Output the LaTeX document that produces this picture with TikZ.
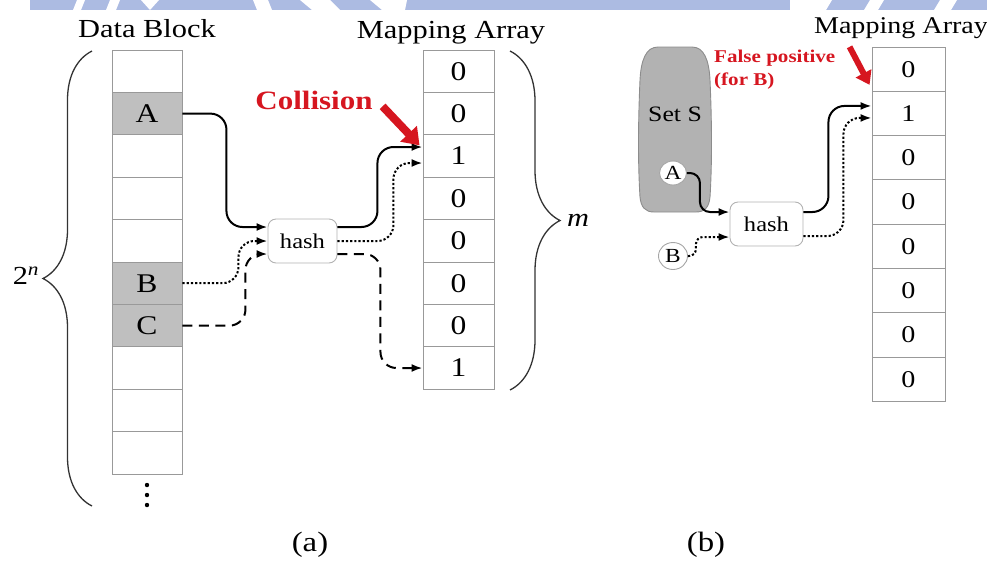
\documentclass[tikz,border=0pt]{standalone}
\usepackage{fontspec}
\setmainfont{Liberation Serif}
\usepackage{graphicx}
\usetikzlibrary{arrows.meta,decorations.pathreplacing,shapes.geometric}
\definecolor{alertred}{RGB}{214,22,32}
\definecolor{bandblue}{RGB}{172,187,226}
\newcommand{\fs}[1]{\fontsize{#1}{#1}\selectfont}
\newcommand{\wtext}[1]{\scalebox{1.17}[1]{#1}}
\tikzset{
  cell/.style={draw=black!40, line width=0.9pt, minimum width=70pt,
    minimum height=42.4pt, inner sep=0pt, font=\fs{27}},
  cellb/.style={cell, minimum width=73pt, minimum height=44.3pt, font=\fs{24}},
  hashbox/.style={draw=black!30, line width=0.9pt, rounded corners=8pt,
    fill=white, inner sep=0pt, font=\fs{21}},
  flow/.style={line width=2pt, rounded corners=16pt,
    -{Latex[length=11pt,width=8pt]}},
  dotflow/.style={flow, dash pattern=on 2.2pt off 2pt},
  dashflow/.style={flow, dash pattern=on 10pt off 6.5pt},
  redarrow/.style={draw=alertred, line width=8pt,
    -{Triangle[length=16pt,width=22pt]}},
  bracestyle/.style={draw=black!80, line width=1.3pt, decorate},
  member/.style={ellipse, draw=black!35, line width=0.9pt, fill=white,
    inner sep=0pt, font=\fs{20}},
  title/.style={anchor=base, inner sep=0pt}
}
\begin{document}
\begin{tikzpicture}[x=1pt, y=-1pt]
\useasboundingbox (0,0) rectangle (987,563);

% watermark band along the top edge
\fill[bandblue] (30,0) rectangle (987,10);
\fill[white] (77,0) -- (85,0) -- (81,10) -- (73,10) -- cycle;
\fill[white] (110,0) -- (120,0) -- (116,10) -- (106,10) -- cycle;
\fill[white] (141,0) -- (159,0) -- (150,10) -- cycle;
\fill[white] (253,0) -- (268,0) -- (272,10) -- (257,10) -- cycle;
\fill[white] (300,0) -- (330,0) -- (340,10) -- (312,10) -- cycle;
\fill[white] (370,0) -- (407,0) -- (405,10) -- (382,10) -- cycle;
\fill[white] (790,0) -- (832,0) -- (826,10) -- (790,10) -- cycle;
\fill[white] (870,0) -- (884,0) -- (878,10) -- (864,10) -- cycle;
\fill[white] (940,0) -- (957,0) -- (951,10) -- (934,10) -- cycle;

% ---------------- (a) ----------------
\node[title, font=\fs{26}] (dbTitle) at (147,37) {\wtext{Data Block}};
\node[title, font=\fs{26}] (maTitle) at (451,38) {\wtext{Mapping Array}};

\foreach \i/\lab/\f in {1//white, 2/A/black!25, 3//white, 4//white, 5//white,
    6/B/black!25, 7/C/black!25, 8//white, 9//white, 10//white}
  \node[cell, fill=\f] (d\i) at (147,{50+42.4*\i-21.2}) {\wtext{\lab}};

\foreach \i/\v in {1/0, 2/0, 3/1, 4/0, 5/0, 6/0, 7/0, 8/1}
  \node[cell, minimum width=71pt] (m\i) at (458.5,{50+42.4*\i-21.2}) {\wtext{\v}};

\fill (147,485) circle (2.2pt);
\fill (147,495) circle (2.2pt);
\fill (147,505) circle (2.2pt);

\draw[bracestyle, decoration={brace, amplitude=49pt}] (92,506) -- (92,51);
\node[font=\fs{26}] (twoN) at (26,276) {\wtext{2\textsuperscript{\itshape n}}};
\draw[bracestyle, decoration={brace, amplitude=50pt}] (510,51) -- (510,390);
\node[font=\fs{26}\itshape] (mLab) at (578,220) {\wtext{m}};

\node[hashbox, minimum width=69pt, minimum height=44pt] (ha) at (302.5,241) {\wtext{hash}};

\draw[flow] (d2.east) -- ++(44,0) |- ([yshift=14pt]ha.west);
\draw[dotflow] (d6.east) -- ++(56,0) |- (ha.west);
\draw[dashflow] (d7.east) -- ++(63,0) |- ([yshift=-13pt]ha.west);

\draw[flow] ([yshift=14pt]ha.east) -- ++(40,0) |- ([yshift=9pt]m3.west);
\draw[dotflow] (ha.east) -- ++(56,0) |- ([yshift=-7pt]m3.west);
\draw[dashflow] ([yshift=-13pt]ha.east) -- ++(43,0) |- (m8.west);

\node[title, font=\fs{26.5}\bfseries, text=alertred] (collision) at (314,109) {\wtext{Collision}};
\coordinate (colTail) at ([shift={(-40pt,28pt)}]m3.north west);
\draw[redarrow] (colTail) -- ([shift={(-3pt,-11pt)}]m3.north west);

\node[font=\fs{28}] (capA) at (310,545) {\wtext{(a)}};

% ---------------- (b) ----------------
\node[title, font=\fs{24}] (mbTitle) at (901,33) {\wtext{Mapping Array}};

\foreach \i/\v in {1/0, 2/1, 3/0, 4/0, 5/0, 6/0, 7/0, 8/0}
  \node[cellb] (n\i) at (908.5,{47+44.3*\i-22.15}) {\wtext{\v}};

% the set S container
\draw[draw=black!45, line width=0.9pt, fill=black!30]
  (658,47) -- (692,47) .. controls (704,47) and (709,60) .. (710,80)
  .. controls (712,125) and (712,165) .. (710,197)
  .. controls (709,207) and (705,212) .. (696,212) -- (654,212)
  .. controls (645,212) and (641,207) .. (640,197)
  .. controls (638,165) and (638,125) .. (640,80)
  .. controls (641,60) and (646,47) .. (658,47) -- cycle;
\node[font=\fs{22}] (setS) at (675,114) {\wtext{Set S}};
\node[member, minimum width=27pt, minimum height=24pt] (sa) at (673,173) {\wtext{A}};
\node[member, minimum width=29pt, minimum height=27pt] (sb) at (673,256) {\wtext{B}};

\node[hashbox, minimum width=73pt, minimum height=44pt] (hb) at (766.5,224) {\wtext{hash}};

\draw[flow, rounded corners=10pt] (sa.east) -- ++(13,0) |- ([yshift=12pt]hb.west);
\draw[dotflow, rounded corners=7pt] (sb.east) -- ++(8,0) |- ([yshift=-13pt]hb.west);

\draw[flow] ([yshift=12pt]hb.east) -- ++(25,0) |- ([yshift=7.5pt]n2.west);
\draw[dotflow] ([yshift=-12pt]hb.east) -- ++(40,0) |- ([yshift=-4.5pt]n2.west);

\node[anchor=north west, inner sep=0pt, align=left, text=alertred,
  font=\fontsize{18}{23}\selectfont\bfseries] (falsePos) at (714,50)
  {\wtext{False positive}\\\wtext{(for B)}};
\coordinate (fpTail) at ([shift={(-22pt,44pt)}]n2.north west);
\draw[redarrow, line width=6pt, -{Triangle[length=13pt,width=17pt]}]
  (fpTail) -- ([shift={(-2pt,6pt)}]n2.north west);

\node[font=\fs{28}] (capB) at (706,545) {\wtext{(b)}};
\end{tikzpicture}
\end{document}
